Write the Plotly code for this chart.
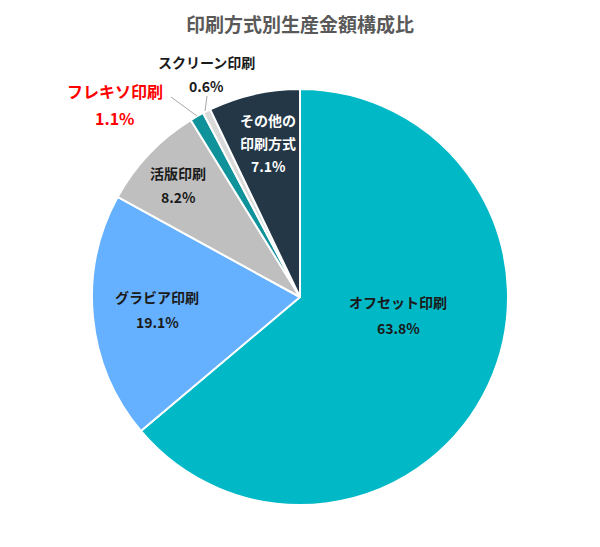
import plotly.graph_objects as go

W, H = 600, 547

categories = ["オフセット印刷", "グラビア印刷", "活版印刷", "フレキソ印刷", "スクリーン印刷", "その他の印刷方式"]
values = [63.8, 19.1, 8.2, 1.1, 0.6, 7.1]
title_text = "印刷方式別生産金額構成比"

colors = ["#00B8C6", "#66B1FF", "#BFBFBF", "#0F9299", "#D9D9D9", "#233746"]

# label layout: (name lines, pixel x, name y, pct y, color, size)
label_layout = [
    (["オフセット印刷"], 398, [302], 328, "#1a1a1a", 14),
    (["グラビア印刷"], 157, [297], 322, "#1a1a1a", 14),
    (["活版印刷"], 178, [173], 197, "#1a1a1a", 14),
    (["フレキソ印刷"], 115, [91], 118, "#FF0000", 16),
    (["スクリーン印刷"], 207, [62], 86, "#1a1a1a", 14),
    (["その他の", "印刷方式"], 268, [120, 143], 166, "#FFFFFF", 14),
]

def px(x):
    return x / W

def py(y):
    return 1 - y / H

fig = go.Figure()
fig.add_trace(go.Pie(
    labels=categories,
    values=values,
    sort=False,
    direction="clockwise",
    rotation=0,
    marker=dict(colors=colors, line=dict(color="#FFFFFF", width=2)),
    textinfo="none",
    hoverinfo="label+percent",
    showlegend=False,
    domain=dict(x=[px(92), px(508)], y=[py(505), py(89)]),
))

font_family = "Noto Sans CJK JP"
annotations = []
for (lines, x, ys, pyy, col, sz), val in zip(label_layout, values):
    for line, y in zip(lines, ys):
        annotations.append(dict(
            text=f"<b>{line}</b>", x=px(x), y=py(y), xref="paper", yref="paper",
            showarrow=False, xanchor="center", yanchor="middle",
            font=dict(family=font_family, size=sz, color=col)))
    annotations.append(dict(
        text=f"<b>{val:.1f}%</b>", x=px(x), y=py(pyy), xref="paper", yref="paper",
        showarrow=False, xanchor="center", yanchor="middle",
        font=dict(family=font_family, size=sz, color=col)))

annotations.append(dict(
    text=f"<b>{title_text}</b>", x=0.5, y=py(23), xref="paper", yref="paper",
    showarrow=False, xanchor="center", yanchor="middle",
    font=dict(family=font_family, size=19, color="#595959")))

shapes = [
    dict(type="line", xref="paper", yref="paper", x0=px(171), y0=py(97), x1=px(197), y1=py(116),
         line=dict(color="#A6A6A6", width=1)),
    dict(type="line", xref="paper", yref="paper", x0=px(207), y0=py(96), x1=px(205), y1=py(111),
         line=dict(color="#A6A6A6", width=1)),
]

fig.update_layout(
    width=W, height=H,
    margin=dict(l=0, r=0, t=0, b=0),
    paper_bgcolor="#FFFFFF",
    plot_bgcolor="#FFFFFF",
    annotations=annotations,
    shapes=shapes,
)

fig.write_html("out.html")
